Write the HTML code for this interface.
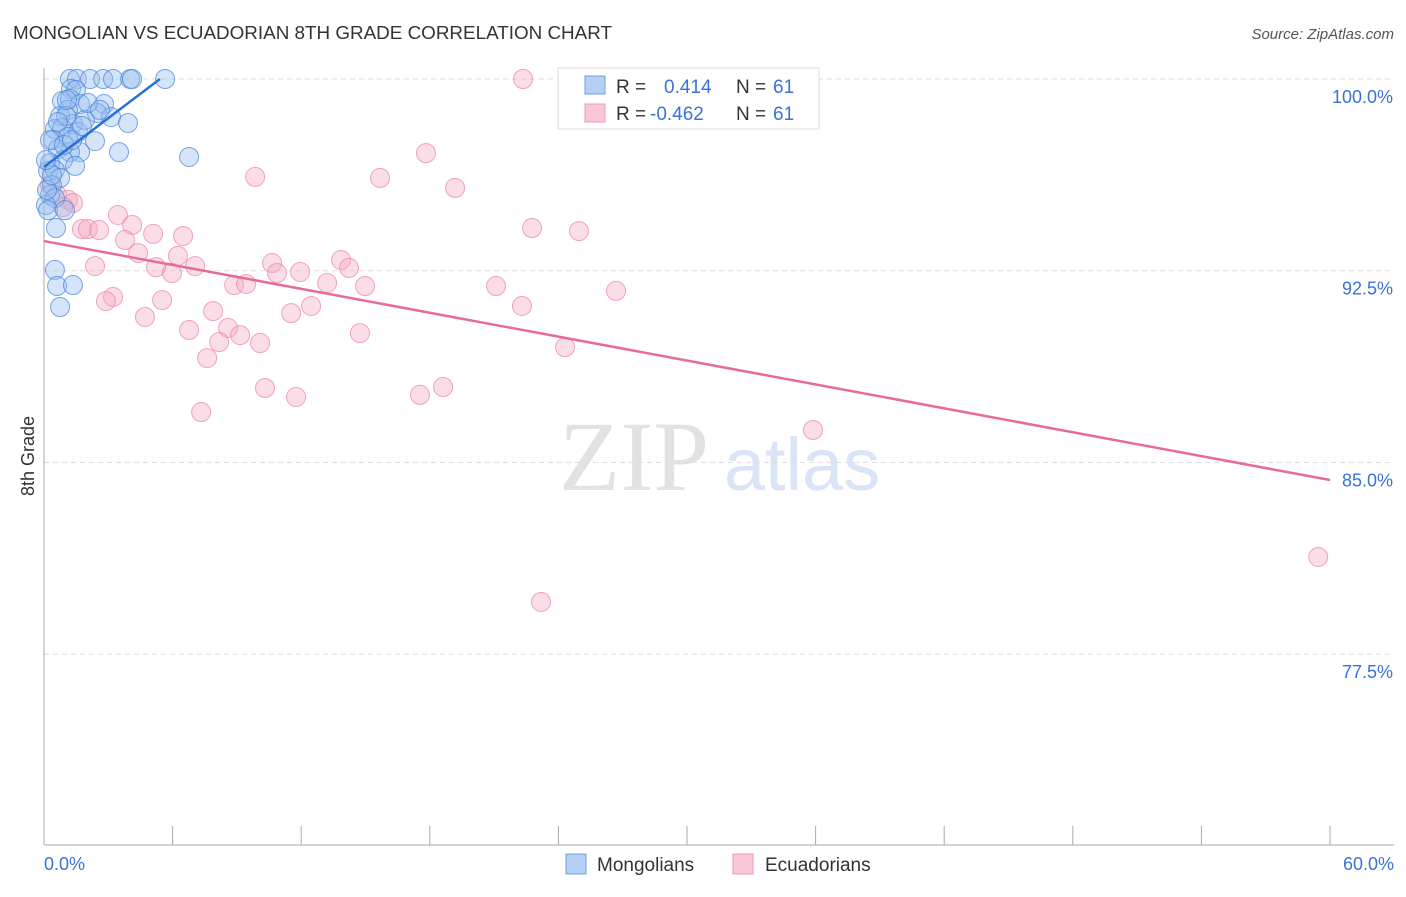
<!DOCTYPE html>
<html><head><meta charset="utf-8"><style>
body{margin:0;background:#fff;font-family:"Liberation Sans",sans-serif;}
svg text{font-family:"Liberation Sans",sans-serif;}
svg text.serif{font-family:"Liberation Serif",serif;}
</style></head><body>
<svg width="1406" height="892" viewBox="0 0 1406 892">
<text x="13" y="39" font-size="18" fill="#333" textLength="599" lengthAdjust="spacingAndGlyphs">MONGOLIAN VS ECUADORIAN 8TH GRADE CORRELATION CHART</text>
<text x="1394" y="39" font-size="15" fill="#555" font-style="italic" text-anchor="end">Source: ZipAtlas.com</text>
<g>
<text class="serif" x="634" y="490" font-size="100" fill="#e2e2e2" text-anchor="middle">ZIP</text>
<text x="802" y="490" font-size="74" fill="#d9e5f6" text-anchor="middle">atlas</text>
</g>
<g id="grid"></g>
<g id="axes"></g>
<g id="marks"></g>
<text transform="translate(34,456) rotate(-90)" font-size="18" fill="#333" text-anchor="middle">8th Grade</text>
<g>
<rect x="558" y="68" width="261" height="61" fill="#fff" stroke="#ddd"/>
<rect x="585" y="76" width="20" height="18" fill="#b6d0f5" stroke="#6f9fe0"/>
<rect x="585" y="104" width="20" height="18" fill="#f9c7d5" stroke="#f09ab4"/>
<text x="616" y="93" font-size="19" fill="#333">R =</text>
<text x="664" y="93" font-size="19" fill="#3a72d8">0.414</text>
<text x="736" y="93" font-size="19" fill="#333">N =</text>
<text x="773" y="93" font-size="19" fill="#3a72d8">61</text>
<text x="616" y="120" font-size="19" fill="#333">R =</text>
<text x="650" y="120" font-size="19" fill="#3a72d8">-0.462</text>
<text x="736" y="120" font-size="19" fill="#333">N =</text>
<text x="773" y="120" font-size="19" fill="#3a72d8">61</text>
</g>
<g>
<rect x="566" y="854" width="20" height="20" fill="#b6d0f5" stroke="#6f9fe0"/>
<text x="597" y="871" font-size="19" fill="#333">Mongolians</text>
<rect x="733" y="854" width="20" height="20" fill="#f9c7d5" stroke="#f09ab4"/>
<text x="765" y="871" font-size="19" fill="#333">Ecuadorians</text>
</g>
</svg>
<script>
const yTicks=[100,92.5,85,77.5];
const yTickLabels=["100.0%","92.5%","85.0%","77.5%"];
const xTicks=[0,6,12,18,24,30,36,42,48,54,60];
const xEndLabels=["0.0%","60.0%"];
const blueX=[1.21,1.54,2.15,2.76,3.22,4.02,4.11,5.65,1.26,1.49,0.84,1.21,1.68,2.80,1.12,2.47,3.13,3.92,0.75,1.35,0.51,0.84,1.59,1.12,2.38,0.42,0.65,1.68,1.21,3.50,6.77,0.89,1.45,0.28,0.19,0.51,0.75,0.37,0.28,0.51,0.09,0.19,0.98,0.56,0.51,0.61,1.35,0.75,0.28,1.91,1.03,2.05,0.14,0.37,0.93,2.61,1.31,0.65,1.77,1.07,0.09];
const blueY=[100,100,100,100,100,100,100,100,99.61,99.57,99.14,99.22,99.02,99.02,98.79,98.67,98.51,98.28,98.55,98.24,98.04,98.08,97.93,97.73,97.57,97.61,97.26,97.14,97.14,97.14,96.95,96.83,96.60,96.71,96.40,96.44,96.13,95.85,95.46,95.34,95.07,94.87,94.87,94.17,92.53,91.90,91.94,91.08,97.61,98.40,98.55,99.06,95.66,96.24,97.42,98.79,97.61,98.32,98.16,99.18,96.83];
const pinkX=[22.35,17.82,9.85,15.68,19.18,0.28,0.61,1.12,1.35,0.89,3.45,4.11,1.77,2.05,2.57,3.78,5.09,6.49,22.77,24.96,4.39,6.25,2.38,5.23,5.97,7.05,10.64,10.87,11.95,13.86,14.23,8.87,9.43,13.21,14.98,21.09,26.69,3.22,2.89,5.51,12.46,11.53,22.30,7.89,4.71,6.77,8.59,9.15,8.17,10.08,14.74,24.31,7.61,10.31,11.76,17.54,18.62,7.33,35.88,59.45,23.19];
const pinkY=[100,97.10,96.17,96.13,95.74,95.85,95.46,95.27,95.15,94.99,94.68,94.29,94.13,94.13,94.09,93.70,93.94,93.86,94.17,94.05,93.19,93.08,92.68,92.64,92.41,92.68,92.80,92.41,92.45,92.92,92.61,91.94,91.98,92.02,91.90,91.90,91.71,91.47,91.31,91.35,91.12,90.84,91.12,90.92,90.69,90.18,90.26,89.98,89.71,89.67,90.06,89.51,89.08,87.91,87.56,87.64,87.95,86.97,86.27,81.30,79.54];
const blueTrend=[[0,96.56],[5.41,100]];
const pinkTrend=[[0,93.66],[60,84.31]];
const NS='http://www.w3.org/2000/svg';
const xs=v=>44+v/60*1286;
const ys=v=>79+(100-v)*191.7/7.5;
function mk(tag,attrs,parent){const e=document.createElementNS(NS,tag);for(const k in attrs)e.setAttribute(k,attrs[k]);document.getElementById(parent).appendChild(e);return e;}
yTicks.forEach((t,i)=>{
 const l=mk('line',{x1:44,x2:1394,y1:ys(t),y2:ys(t),stroke:'#ddd','stroke-dasharray':'5,4'},'grid');
 
 
 const tx=mk('text',{x:1393,y:ys(t)+24,'font-size':18,fill:'#3a72d8','text-anchor':'end'},'grid');
 tx.textContent=yTickLabels[i];
 
 
});
let a=mk('line',{x1:44,x2:44,y1:68,y2:845,stroke:'#aaa'},'axes');


a=mk('line',{x1:44,x2:1394,y1:845,y2:845,stroke:'#aaa'},'axes');


xTicks.forEach(t=>{
 const l=mk('line',{x1:xs(t),x2:xs(t),y1:826,y2:845,stroke:'#aaa'},'axes');
 
 
});
[[xTicks[0],'start'],[xTicks[xTicks.length-1],'end']].forEach((d,i)=>{
 const tx=mk('text',{x:i==0?xs(d[0]):1394,y:870,'font-size':18,fill:'#3a72d8','text-anchor':d[1]},'axes');
 tx.textContent=xEndLabels[i];
 
 
});
pinkX.forEach((x,i)=>{
 const c=mk('circle',{cx:xs(x),cy:ys(pinkY[i]),r:9.5,fill:'rgba(244,170,195,0.4)',stroke:'rgba(232,130,165,0.7)','stroke-width':1},'marks');
 
 
});
blueX.forEach((x,i)=>{
 const c=mk('circle',{cx:xs(x),cy:ys(blueY[i]),r:9.5,fill:'rgba(150,190,240,0.4)',stroke:'rgba(70,130,215,0.7)','stroke-width':1},'marks');
 
 
});
let t=mk('line',{x1:xs(pinkTrend[0][0]),y1:ys(pinkTrend[0][1]),x2:xs(pinkTrend[1][0]),y2:ys(pinkTrend[1][1]),stroke:'#e86a97','stroke-width':2.5},'marks');


t=mk('line',{x1:xs(blueTrend[0][0]),y1:ys(blueTrend[0][1]),x2:xs(blueTrend[1][0]),y2:ys(blueTrend[1][1]),stroke:'#2a6fd6','stroke-width':2.5},'marks');


</script>
</body></html>
